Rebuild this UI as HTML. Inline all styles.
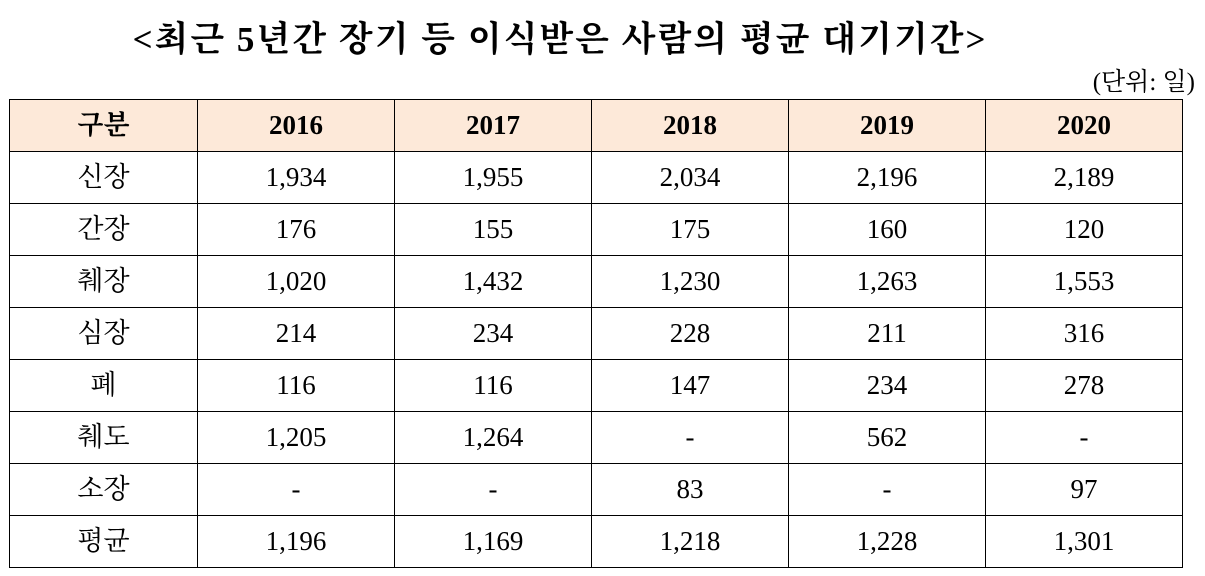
<!DOCTYPE html>
<html><head><meta charset="utf-8"><style>
body{margin:0;width:1205px;height:576px;background:#fff;position:relative;overflow:hidden;font-family:"Liberation Serif","Noto Serif CJK SC",serif;color:#000}
#title{position:absolute;left:0;width:1120px;top:12px;text-align:center;font-size:35px;font-weight:bold;letter-spacing:2px}
#unit{position:absolute;right:10px;top:62px;font-size:25px}
table{position:absolute;left:9px;top:99px;border-collapse:collapse;table-layout:fixed}
td{border:1px solid #000;text-align:center;font-size:27px;height:51px;padding:0;line-height:27px}
tr.h td{background:#fde9d9;font-weight:bold}
</style></head><body>
<div id="title">&lt;최근 5년간 장기 등 이식받은 사람의 평균 대기기간&gt;</div>
<div id="unit">(단위: 일)</div>
<table>
<colgroup><col style="width:188px"><col style="width:197px"><col style="width:197px"><col style="width:197px"><col style="width:197px"><col style="width:197px"></colgroup>
<tr class="h"><td style="height:50px">구분</td><td>2016</td><td>2017</td><td>2018</td><td>2019</td><td>2020</td></tr>
<tr><td>신장</td><td>1,934</td><td>1,955</td><td>2,034</td><td>2,196</td><td>2,189</td></tr>
<tr><td>간장</td><td>176</td><td>155</td><td>175</td><td>160</td><td>120</td></tr>
<tr><td>췌장</td><td>1,020</td><td>1,432</td><td>1,230</td><td>1,263</td><td>1,553</td></tr>
<tr><td>심장</td><td>214</td><td>234</td><td>228</td><td>211</td><td>316</td></tr>
<tr><td>폐</td><td>116</td><td>116</td><td>147</td><td>234</td><td>278</td></tr>
<tr><td>췌도</td><td>1,205</td><td>1,264</td><td>-</td><td>562</td><td>-</td></tr>
<tr><td>소장</td><td>-</td><td>-</td><td>83</td><td>-</td><td>97</td></tr>
<tr><td>평균</td><td>1,196</td><td>1,169</td><td>1,218</td><td>1,228</td><td>1,301</td></tr>
</table>
</body></html>
